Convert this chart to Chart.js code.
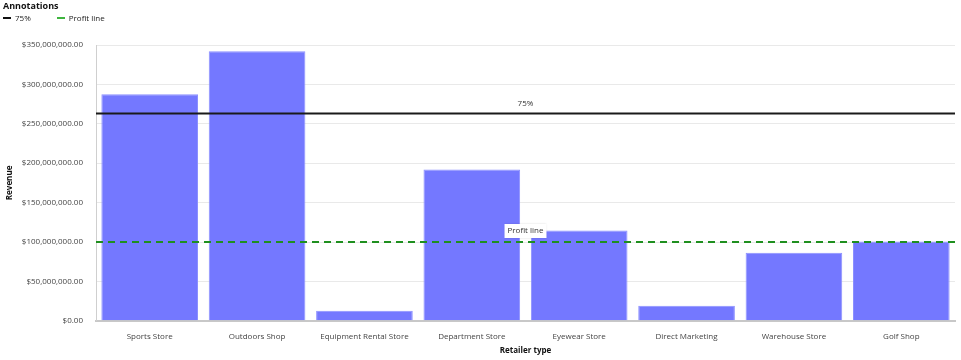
<!DOCTYPE html>
<html><head><meta charset="utf-8">
<script src="https://cdn.jsdelivr.net/npm/chart.js@4/dist/chart.umd.min.js"></script>
<style>
html,body{margin:0;padding:0;background:#fff}
#wrap{width:961px;height:360px;position:relative}
#legend{position:absolute;left:3px;top:0;font-family:'Open Sans','Noto Sans',sans-serif;color:#222}
#legend .title{font-size:9px;font-weight:bold;color:#111;line-height:11px}
#legend .items{display:flex;align-items:center;font-size:8px;line-height:12px;margin-top:1px}
#legend .item{display:flex;align-items:center;margin-right:26px}
#legend .sw{width:8px;height:0;margin-right:4px}
</style>
</head><body><div id="wrap"><canvas id="c" width="961" height="360"></canvas>
<div id="legend"><div class="title">Annotations</div><div class="items" id="items"></div></div></div>
<script>
const categories = ["Sports Store","Outdoors Shop","Equipment Rental Store","Department Store","Eyewear Store","Direct Marketing","Warehouse Store","Golf Shop"];
const revenue = [287500000, 342000000, 12700000, 192000000, 114500000, 19000000, 86500000, 100500000];
const yTicks = [0, 50000000, 100000000, 150000000, 200000000, 250000000, 300000000, 350000000];
const annotationNames = ["75%", "Profit line"];
const annotationValues = [263000000, 100000000];

const FONT = "'Open Sans', 'Noto Sans', sans-serif";
const fmt = v => '$' + Number(v).toLocaleString('en-US', {minimumFractionDigits: 2, maximumFractionDigits: 2});

const swatches = ['border-top:2px solid #111', 'border-top:2px dashed #3fb53f'];
const itemsEl = document.getElementById('items');
annotationNames.forEach((n, i) => {
  const d = document.createElement('div'); d.className = 'item';
  const s = document.createElement('span'); s.className = 'sw'; s.style.cssText = swatches[i];
  const t = document.createElement('span'); t.textContent = n;
  d.appendChild(s); d.appendChild(t); itemsEl.appendChild(d);
});

const annoPlugin = {
  id: 'anno',
  afterDatasetsDraw(chart) {
    const {ctx, chartArea, scales} = chart;
    const y = scales.y;
    const cx = (chartArea.left + chartArea.right) / 2;
    let py = y.getPixelForValue(annotationValues[0]);
    ctx.save();
    ctx.strokeStyle = '#1a1a1a'; ctx.lineWidth = 2; ctx.setLineDash([]);
    ctx.beginPath(); ctx.moveTo(chartArea.left, py); ctx.lineTo(chartArea.right, py); ctx.stroke();
    ctx.font = '8px ' + FONT; ctx.fillStyle = '#333'; ctx.textAlign = 'center'; ctx.textBaseline = 'middle';
    ctx.fillText(annotationNames[0], cx, py - 10);
    py = y.getPixelForValue(annotationValues[1]);
    ctx.strokeStyle = '#1f8f1f'; ctx.lineWidth = 2; ctx.setLineDash([7, 5]);
    ctx.beginPath(); ctx.moveTo(chartArea.left, py); ctx.lineTo(chartArea.right, py); ctx.stroke();
    ctx.setLineDash([]);
    const tw = ctx.measureText(annotationNames[1]).width;
    ctx.fillStyle = '#fff'; ctx.shadowColor = 'rgba(0,0,0,0.15)'; ctx.shadowBlur = 2;
    ctx.fillRect(cx - tw/2 - 3, py - 18, tw + 6, 14);
    ctx.shadowBlur = 0;
    ctx.fillStyle = '#333';
    ctx.fillText(annotationNames[1], cx, py - 11);
    ctx.restore();
  }
};

new Chart(document.getElementById('c'), {
  type: 'bar',
  data: {
    labels: categories,
    datasets: [{
      label: 'Revenue',
      data: revenue,
      backgroundColor: 'rgb(116,120,255)',
      borderColor: 'rgb(140,144,255)',
      borderWidth: 1,
      barPercentage: 0.9,
      categoryPercentage: 1.0
    }]
  },
  options: {
    responsive: false,
    animation: false,
    layout: {padding: {left: 0, right: 6, top: 45, bottom: 4}},
    plugins: {tooltip: {enabled: false}, legend: {display: false}},
    scales: {
      x: {
        grid: {display: false},
        border: {color: '#c8c8c8', width: 2},
        ticks: {font: {family: FONT, size: 8}, color: '#444', padding: 3, maxRotation: 0, autoSkip: false},
        title: {display: true, text: 'Retailer type', font: {family: FONT, size: 8, weight: 'bold'}, color: '#111', padding: {top: 2, bottom: 0}}
      },
      y: {
        min: 0, max: 350000000,
        afterBuildTicks: s => { s.ticks = yTicks.map(v => ({value: v})); },
        afterFit: s => { s.width = 96; },
        grid: {color: '#e9e9e9', drawTicks: false},
        border: {color: '#cfcfcf', width: 1},
        ticks: {font: {family: FONT, size: 8}, color: '#444', padding: 13, callback: v => fmt(v)},
        title: {display: true, text: 'Revenue', font: {family: FONT, size: 8, weight: 'bold'}, color: '#111', padding: {top: 5, bottom: 0}}
      }
    }
  },
  plugins: [annoPlugin]
});
</script></body></html>
